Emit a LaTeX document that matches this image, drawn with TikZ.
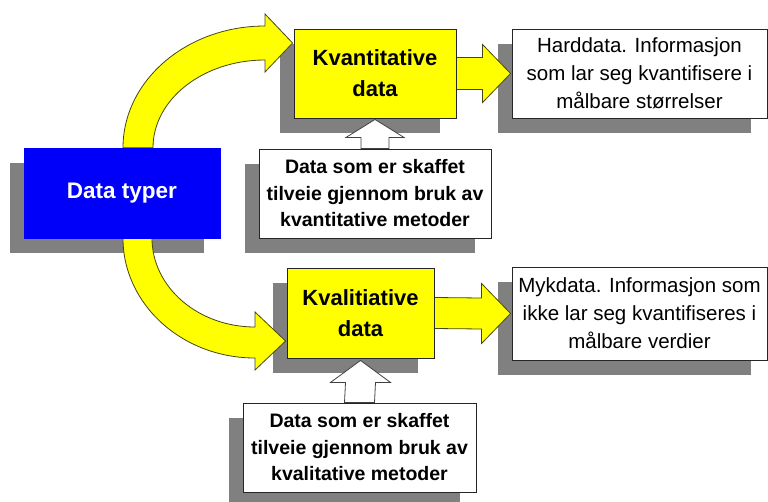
\documentclass[tikz,border=0pt]{standalone}
\usepackage{fontspec}
\setmainfont{Liberation Sans}
\usetikzlibrary{calc}
\pgfdeclarelayer{shadowlayer}
\pgfdeclarelayer{arrowlayer}
\pgfsetlayers{shadowlayer,arrowlayer,main}
\definecolor{ppyellow}{RGB}{255,255,0}
\definecolor{ppblue}{RGB}{0,0,250}
\definecolor{ppshadow}{RGB}{128,128,128}
\definecolor{ppline}{RGB}{70,70,20}
\tikzset{
  box/.style={rectangle, draw=black!85, line width=0.9pt, inner sep=0pt, align=center},
  yellowbox/.style={box, fill=ppyellow, font=\bfseries\fontsize{22}{31}\selectfont},
  leftdesc/.style={box, fill=white, font=\bfseries\fontsize{19.5}{26.5}\selectfont},
  rightdesc/.style={box, fill=white, font=\fontsize{20.5}{28}\selectfont},
  bluebox/.style={rectangle, fill=ppblue, draw=ppblue, inner sep=0pt, text=white, font=\bfseries\fontsize{22.5}{27}\selectfont},
  shadowfill/.style={fill=ppshadow},
  yarrow/.style={fill=ppyellow, draw=ppline, line width=0.8pt, line join=miter},
  harrow/.style={fill=white, draw=black!75, line width=0.8pt, line join=miter},
}
\begin{document}
\begin{tikzpicture}[x=1pt,y=-1pt]
\useasboundingbox (0,0) rectangle (768,501);

% boxes
\node[bluebox, minimum width=196pt, minimum height=90pt] (blue) at (122,193) {Data typer};
\node[yellowbox, minimum width=162pt, minimum height=89pt] (kvant) at (375,73.5) {Kvantitative\\data};
\node[rightdesc, minimum width=255pt, minimum height=89pt] (hard) at (639.5,73.5) {Harddata. Informasjon\\som lar seg kvantifisere i\\målbare størrelser};
\node[leftdesc, minimum width=232pt, minimum height=89pt] (desca) at (375,193.5) {Data som er skaffet\\tilveie gjennom bruk av\\kvantitative metoder};
\node[yellowbox, minimum width=147pt, minimum height=90pt] (kval) at (360.5,313) {Kvalitiative\\data};
\node[rightdesc, minimum width=255pt, minimum height=93pt] (myk) at (639.5,313.5) {Mykdata. Informasjon som\\ikke lar seg kvantifiseres i\\målbare verdier};
\node[leftdesc, minimum width=233pt, minimum height=89pt] (descb) at (359.5,447.5) {Data som er skaffet\\tilveie gjennom bruk av\\kvalitative metoder};

% shadows
\begin{pgfonlayer}{shadowlayer}
  \foreach \n in {blue,kvant,hard,desca,kval,myk,descb}
    \fill[shadowfill] ($(\n.south west)+(-14,15)$) rectangle ($(\n.north east)+(-16,15)$);
\end{pgfonlayer}

% arrows
\begin{pgfonlayer}{arrowlayer}
  % curved arrows from Data typer
  \path[yarrow] ($(blue.north)+(1,0)$) .. controls (123,80.6) and (186.6,26) .. (265,26)
    -- (265,14) -- ($(kvant.west)+(-1,-30.5)$) -- (265,72) -- (265,60)
    .. controls (203.1,60) and (153,99.4) .. ($(blue.north)+(31,0)$) -- cycle;
  \path[yarrow] ($(blue.south)+(1,0)$) .. controls (123,304.3) and (182.1,358) .. (255,358)
    -- (255,370) -- ($(kval.west)+(-1,28)$) -- (255,312) -- (255,327)
    .. controls (198.1,327) and (152,287.2) .. ($(blue.south)+(30,0)$) -- cycle;
  % straight block arrows
  \path[yarrow] ($(kvant.east)+(0,-16)$) -- ($(hard.west)+(-29,-16)$) -- ($(hard.west)+(-29,-29)$)
    -- ($(hard.west)+(-1,0)$) -- ($(hard.west)+(-29,29)$) -- ($(hard.west)+(-29,16)$)
    -- ($(kvant.east)+(0,16)$) -- cycle;
  \path[yarrow] ($(kval.east)+(0,-15.5)$) -- ($(myk.west)+(-30,-15.5)$) -- ($(myk.west)+(-30,-30)$)
    -- ($(myk.west)+(-1,0)$) -- ($(myk.west)+(-30,30)$) -- ($(myk.west)+(-30,15.5)$)
    -- ($(kval.east)+(0,15.5)$) -- cycle;
  % hollow up arrows
  \path[harrow] ($(desca.north)+(-14,0)$) -- ($(kvant.south)+(-14,19)$) -- ($(kvant.south)+(-29,19)$)
    -- ($(kvant.south)+(0,1)$) -- ($(kvant.south)+(29,19)$) -- ($(kvant.south)+(14,19)$)
    -- ($(desca.north)+(14,0)$) -- cycle;
  \path[harrow] ($(descb.north)+(-15,0)$) -- ($(kval.south)+(-15,24)$) -- ($(kval.south)+(-30,24)$)
    -- ($(kval.south)+(0,2)$) -- ($(kval.south)+(30,24)$) -- ($(kval.south)+(15,24)$)
    -- ($(descb.north)+(15,0)$) -- cycle;
\end{pgfonlayer}
\end{tikzpicture}
\end{document}
